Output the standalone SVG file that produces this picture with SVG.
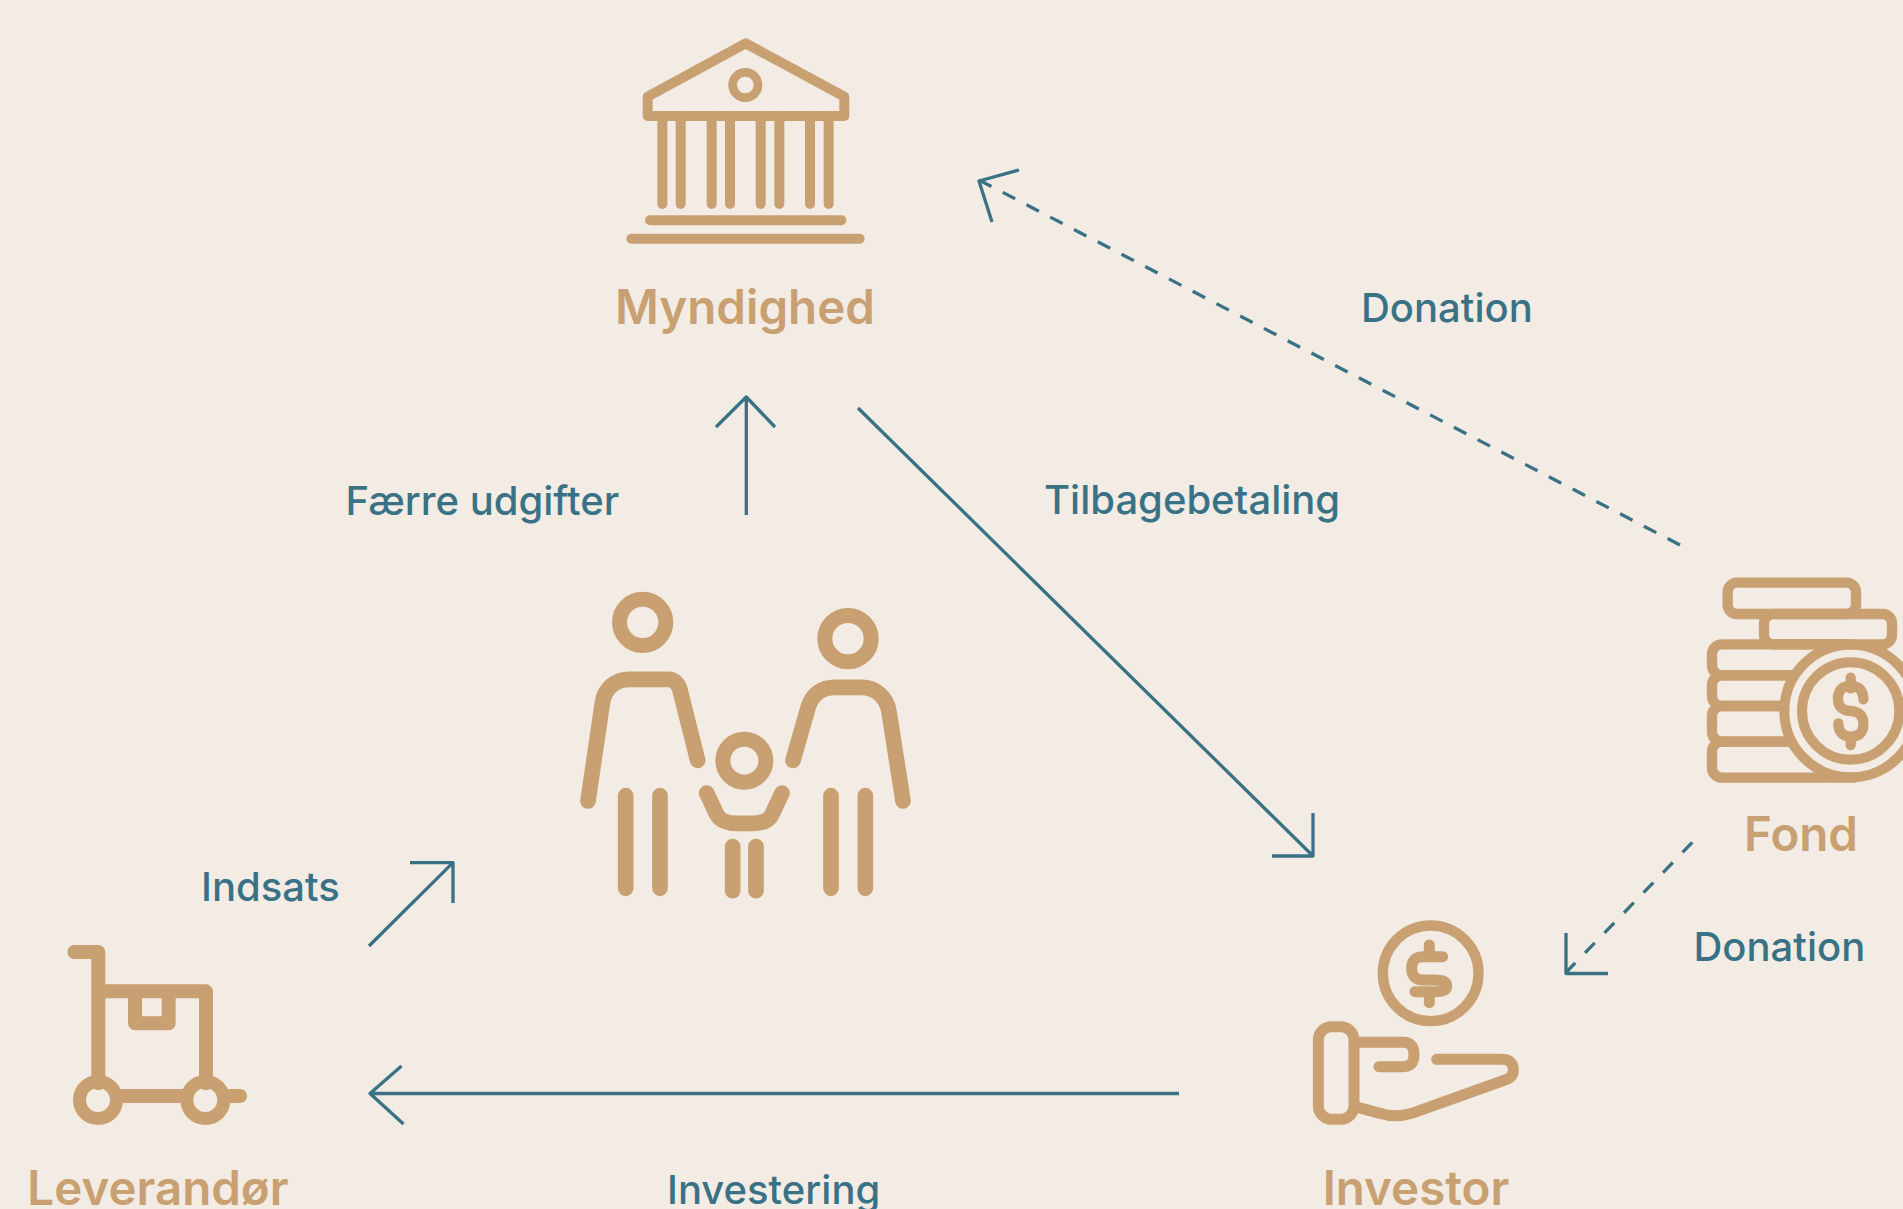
<svg xmlns="http://www.w3.org/2000/svg" width="1903" height="1209" viewBox="0 0 1903 1209">
<style>
.ic{fill:none;stroke:#c8a071;stroke-linecap:round;stroke-linejoin:round}
.nm{font-family:Inter,"Liberation Sans",sans-serif;font-weight:600;font-size:47.5px;fill:#c8a071;text-anchor:middle}
.lb{font-family:Inter,"Liberation Sans",sans-serif;font-weight:500;font-size:40px;fill:#3a7285}
.cn{fill:none;stroke:#3a7285;stroke-width:3.3;stroke-linejoin:round}
</style>
<rect width="1903" height="1209" fill="#f3ece5"/>
<g id="connectors">
<path class="cn" stroke-dasharray="14 12.77" d="M979 180L1680 545"/><path class="cn" d="M1019 170L979 181L992 222"/>
<path class="cn" d="M746.3 515V397M716 427L746.3 397L775 427"/>
<path class="cn" d="M858 408L1313 856M1272 856H1313V813"/>
<path class="cn" d="M369 946L453 862.7M410 862.7H453V903"/>
<path class="cn" d="M1179 1093.5H370M401.5 1066L370 1093.5L403.5 1124"/>
<path class="cn" stroke-dasharray="14 14" d="M1565.5 973L1692.7 842"/><path class="cn" d="M1566 933V973.5H1608"/>
</g>
<g id="myndighed">
<g transform="translate(600 20) scale(.33333)">
<g class="ic" stroke-width="30">
<path d="M437 70L143 230V288H733V230Z"/>
<circle cx="436" cy="195" r="38" stroke-width="26"/>
<path d="M187 288V552M242 288V552M335 288V552M390 288V552M482 288V552M538 288V552M630 288V552M686 288V552M150 601H724M94 656H779"/>
</g></g>
<text class="nm" x="745" y="324">Myndighed</text>
</g>
<g id="familie"><g transform="translate(560 570) scale(.33333)">
<g class="ic" stroke-width="47">
<circle cx="248" cy="157" r="69.5" stroke-width="45"/>
<path d="M84 693L127 400C133 355 165 328 210 328H325C342 328 355 340 360 360L413 571"/>
<path d="M197 677V955M300 677V955"/>
<circle cx="864" cy="206" r="69.5" stroke-width="45"/>
<path d="M699 571L745 410C757 372 785 352 825 352H905C945 352 980 380 987 425L1029 693"/>
<path d="M813 677V955M916 677V955"/>
<circle cx="553" cy="572" r="64.5" stroke-width="45"/>
<path d="M440 669L470 733C480 752 505 760 530 760H578C610 760 628 750 636 733L666 669"/>
<path d="M518 830V962M588 830V962"/>
</g></g></g>
<g id="fond">
<g transform="translate(1680 560) scale(.33333)">
<g class="ic" stroke-width="31">
<rect x="143" y="68" width="385" height="94" rx="28"/>
<rect x="252" y="162" width="384" height="91" rx="28"/>
<rect x="96" y="253" width="450" height="93" rx="30"/>
<rect x="96" y="346" width="450" height="92" rx="30"/>
<rect x="96" y="438" width="450" height="107" rx="30"/>
<rect x="96" y="545" width="450" height="108" rx="30"/>
<circle cx="512" cy="453" r="199" fill="#f3ece5" stroke-width="30"/>
<circle cx="512" cy="453" r="146" stroke-width="30"/>
<path d="M512 353V385M550 418Q550 378 512 378Q474 378 474 415Q474 452 512 453Q550 455 550 492Q550 530 512 530Q476 530 475 490M512 530V555"/>
</g></g>
<text class="nm" x="1801" y="851">Fond</text>
</g>
<g id="investor">
<g transform="translate(1290 900) scale(.33333)">
<g class="ic" stroke-width="33">
<circle cx="422" cy="220" r="143.5" stroke-width="31"/>
<path d="M418 135V165M458 170H400Q365 170 365 205Q365 240 400 240H435Q470 240 470 258Q470 275 435 275H375M418 275V308"/>
<rect x="85" y="380" width="107" height="278" rx="40"/>
<path d="M192 427H340Q372 427 372 464Q372 500 340 500H267"/>
<path d="M440 478H635Q670 478 670 510Q670 532 645 540L365 640Q315 655 270 640L195 620"/>
</g></g>
<text class="nm" x="1416" y="1205">Investor</text>
</g>
<g id="leverandor">
<g transform="translate(0 920) scale(.33333)">
<g class="ic" stroke-width="42">
<path d="M223 96H295V490M295 214H618V490M405 214V310H506V214M360 528H555M690 528H720"/>
<circle cx="294" cy="540" r="55.5" stroke-width="39"/><circle cx="616" cy="540" r="55.5" stroke-width="39"/>
</g></g>
<text class="nm" x="158" y="1205">Leverandør</text>
</g>
<g id="labels">
<text class="lb" x="1361" y="322">Donation</text>
<text class="lb" x="345.5" y="515">Færre udgifter</text>
<text class="lb" x="1044" y="514">Tilbagebetaling</text>
<text class="lb" x="201" y="901">Indsats</text>
<text class="lb" x="1693.5" y="961">Donation</text>
<text class="lb" x="667" y="1204">Investering</text>
</g>
</svg>
